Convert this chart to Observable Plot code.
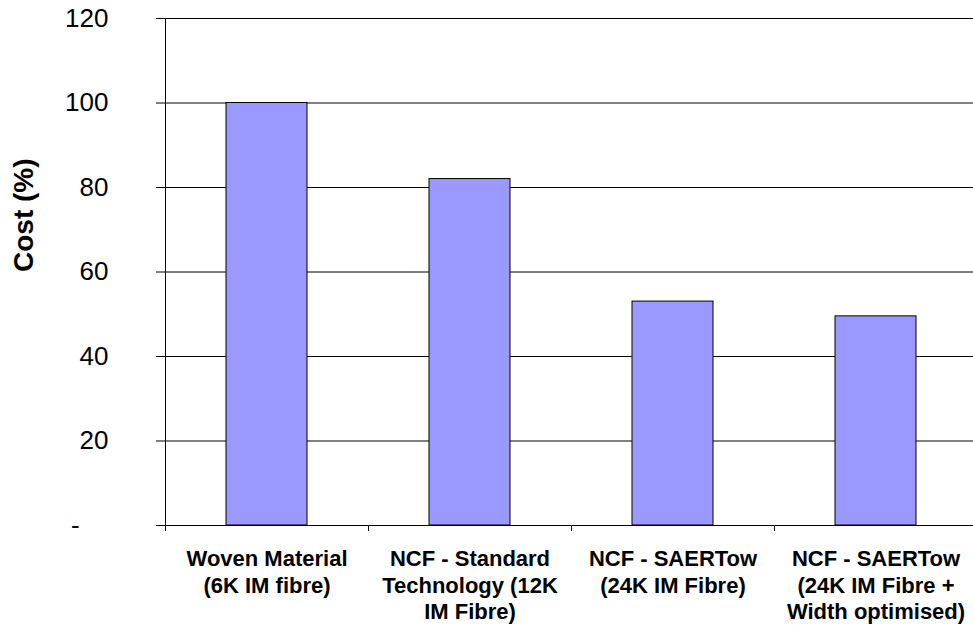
<!DOCTYPE html>
<html><head><meta charset="utf-8">
<script src="https://cdn.jsdelivr.net/npm/d3@7"></script>
<script src="https://cdn.jsdelivr.net/npm/@observablehq/plot@0.6"></script>
<style>
html,body{margin:0;padding:0;background:#fff;}
#chart{width:973px;height:625px;overflow:hidden;}
</style>
</head><body><div id="chart"></div>
<script>
const categories = [
  "Woven Material\n(6K IM fibre)",
  "NCF - Standard\nTechnology (12K\nIM Fibre)",
  "NCF - SAERTow\n(24K IM Fibre)",
  "NCF - SAERTow\n(24K IM Fibre +\nWidth optimised)"
];
const costs = [100, 82, 53, 49.5];
const yTicks = [0, 20, 40, 60, 80, 100, 120];
const yTitle = "Cost (%)";

const data = categories.map((c, i) => ({category: c, cost: costs[i]}));

const width = 973, height = 625;
const marginLeft = 165, marginRight = -4, marginTop = 18, marginBottom = 100;
const step = (width - marginRight - marginLeft) / categories.length;

const chart = Plot.plot({
  width, height, marginLeft, marginRight, marginTop, marginBottom,
  style: {fontFamily: "'Liberation Sans', Arial, sans-serif", background: "#fff", color: "#000"},
  x: {domain: categories, paddingInner: 0.6, paddingOuter: 0.3, axis: null},
  y: {domain: [0, 120], axis: null},
  marks: [
    Plot.ruleY(yTicks.slice(1, -1), {y: d => d, stroke: "#000", strokeWidth: 1}),
    Plot.barY(data, {x: "category", y: "cost", fill: "#9999FF", stroke: "#000", strokeWidth: 1}),
    Plot.frame({stroke: "#000", strokeWidth: 1}),
    Plot.axisY(yTicks, {
      tickSize: 9, tickPadding: 48, fontSize: 26, label: null,
      tickFormat: d => d === 0 ? "-\u00a0\u00a0\u00a0\u00a0" : String(d)
    }),
    Plot.axisX({tickSize: 6, tickFormat: () => "", dx: -step / 2, label: null}),
    Plot.axisX([categories[categories.length - 1]], {tickSize: 6, tickFormat: () => "", dx: step / 2, label: null}),
    Plot.axisX({tickSize: 0, tickPadding: 22, fontSize: 22, fontWeight: "bold", lineHeight: 1.2, label: null}),
    Plot.text([yTitle], {frameAnchor: "left", rotate: -90, dx: -141, fontSize: 28, fontWeight: "bold", fill: "#000"})
  ]
});
document.getElementById("chart").appendChild(chart);
</script>
</body></html>
